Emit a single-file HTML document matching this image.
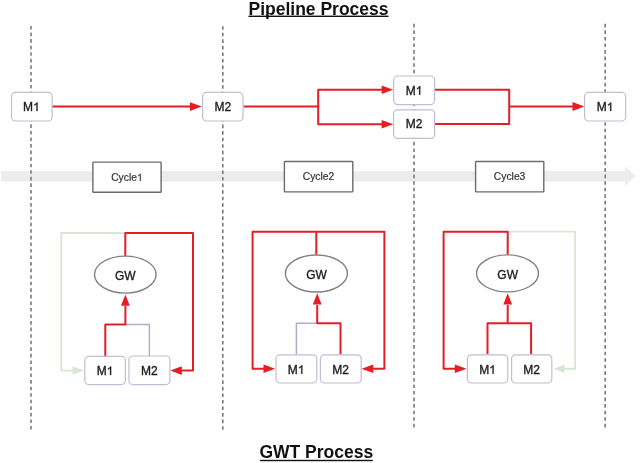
<!DOCTYPE html>
<html><head><meta charset="utf-8">
<style>
html,body{margin:0;padding:0;background:#fff;width:640px;height:463px;overflow:hidden}
svg{display:block;will-change:transform;font-family:"Liberation Sans",sans-serif}
</style></head>
<body>
<svg width="640" height="463" viewBox="0 0 640 463">
<rect width="640" height="463" fill="#fff"/>
<text x="318.5" y="14.5" font-size="17.5" font-weight="bold" text-anchor="middle" fill="#111">Pipeline Process</text>
<rect x="248.5" y="15.6" width="140" height="1.4" fill="#111"/>
<text x="316.3" y="458.4" font-size="17.5" font-weight="bold" text-anchor="middle" fill="#111">GWT Process</text>
<rect x="260" y="459.8" width="112.8" height="1.4" fill="#111"/>
<path d="M1 170.9 H625 V166.2 L635.3 176.1 L625 186.2 V181.4 H1 Z" fill="#ececec"/>
<g stroke="#7a7a7a" stroke-width="1.6" stroke-dasharray="3.6 2.957" fill="none">
<path d="M31 26 V429.6"/><path d="M222.8 26.2 V429.8"/><path d="M414 23.8 V427.4"/><path d="M605.2 23.8 V427.4"/>
</g>
<g fill="#fff" stroke="#6c6c6c" stroke-width="1.4">
<rect x="92.9" y="162.1" width="68.2" height="30.2" rx="0.6"/><rect x="284.4" y="161.5" width="68.4" height="30.4" rx="0.6"/><rect x="475.6" y="161.5" width="68.2" height="30.4" rx="0.6"/>
</g>
<text x="111.16" y="181" font-size="10.3" fill="#333" stroke="#333" stroke-width="0.2">Cycle</text>
<path d="M763 0L583 0L583 1147C540 1106 483 1064 413 1023C343 982 280 951 223 930L223 1104C324 1151 412 1209 487 1276C562 1343 615 1407 646 1466L763 1466Z" transform="translate(136.91,181) scale(0.005029,-0.005029)" fill="#333" stroke="#333" stroke-width="39.8"/>
<text x="302.76" y="180.4" font-size="10.3" fill="#333" stroke="#333" stroke-width="0.2">Cycle2</text>
<text x="493.86" y="180.4" font-size="10.3" fill="#333" stroke="#333" stroke-width="0.2">Cycle3</text>
<g stroke="#e41e25" stroke-width="2" fill="none" stroke-linejoin="round">
<path d="M52 106.6 H191"/><path d="M243.5 106.6 H318.2"/><path d="M382 89.8 H318.2 V124.2 H382"/><path d="M435 89.8 H509.2 V124.1 H435"/><path d="M509.2 106.5 H573.5"/>
</g>
<g fill="#e41e25"><polygon points="190,102.2 201.8,106.6 190,111"/><polygon points="381.6,85.5 393.2,89.8 381.6,94.1"/><polygon points="381.6,119.9 393.2,124.2 381.6,128.5"/><polygon points="572.5,102.1 584.3,106.5 572.5,110.9"/></g>
<g fill="#fff" stroke="#c0bdd8" stroke-width="1.2">
<rect x="11.5" y="92.4" width="40.6" height="28.6" rx="4"/><rect x="202.6" y="92.4" width="40.4" height="28.6" rx="4"/><rect x="393.6" y="76" width="41" height="28.6" rx="4"/><rect x="393.6" y="109.8" width="41" height="28.6" rx="4"/><rect x="584.6" y="92.4" width="41" height="28.6" rx="4"/>
</g>
<text x="23.07" y="111" font-size="12" fill="#1e1e1e" stroke="#1e1e1e" stroke-width="0.35">M</text>
<path d="M763 0L583 0L583 1147C540 1106 483 1064 413 1023C343 982 280 951 223 930L223 1104C324 1151 412 1209 487 1276C562 1343 615 1407 646 1466L763 1466Z" transform="translate(33.06,111) scale(0.005859,-0.005859)" fill="#1e1e1e" stroke="#1e1e1e" stroke-width="59.7"/>
<text x="214.47" y="111" font-size="12" fill="#1e1e1e" stroke="#1e1e1e" stroke-width="0.35">M2</text>
<text x="405.77" y="94.7" font-size="12" fill="#1e1e1e" stroke="#1e1e1e" stroke-width="0.35">M</text>
<path d="M763 0L583 0L583 1147C540 1106 483 1064 413 1023C343 982 280 951 223 930L223 1104C324 1151 412 1209 487 1276C562 1343 615 1407 646 1466L763 1466Z" transform="translate(415.76,94.7) scale(0.005859,-0.005859)" fill="#1e1e1e" stroke="#1e1e1e" stroke-width="59.7"/>
<text x="405.77" y="128.4" font-size="12" fill="#1e1e1e" stroke="#1e1e1e" stroke-width="0.35">M2</text>
<text x="596.77" y="111" font-size="12" fill="#1e1e1e" stroke="#1e1e1e" stroke-width="0.35">M</text>
<path d="M763 0L583 0L583 1147C540 1106 483 1064 413 1023C343 982 280 951 223 930L223 1104C324 1151 412 1209 487 1276C562 1343 615 1407 646 1466L763 1466Z" transform="translate(606.76,111) scale(0.005859,-0.005859)" fill="#1e1e1e" stroke="#1e1e1e" stroke-width="59.7"/>
<g fill="none" stroke-width="2" stroke-linejoin="round">
<path d="M125.3 233 H61.3 V370.6 H73.5" stroke="#d9e5d5" stroke-width="1.8"/>
<path d="M125.3 256 V233 H193 V370.6 H181" stroke="#e41e25"/>
<path d="M125.4 324.6 H149.4 V356" stroke="#b3aacd" stroke-width="1.5"/>
<path d="M105.3 356 V324.6 H125.4 V306" stroke="#e41e25"/>
</g>
<polygon points="72.5,366.5 84,370.6 72.5,374.7" fill="#d9e5d5"/>
<polygon points="181.8,366.3 170.2,370.6 181.8,374.9" fill="#e41e25"/>
<polygon points="121,305.8 125.4,294.5 129.8,305.8" fill="#e41e25"/>
<ellipse cx="125.3" cy="274.6" rx="30.8" ry="18.5" fill="#fff" stroke="#808080" stroke-width="1.4"/>
<g fill="none" stroke-width="2" stroke-linejoin="round">
<path d="M264 368.75 H252.6 V231.7 H384.4 V368.75 H372.5" stroke="#e41e25"/>
<path d="M316.3 231.7 V254.5" stroke="#e41e25"/>
<path d="M317.2 323.3 H296.4 V354.4" stroke="#b3aacd" stroke-width="1.5"/>
<path d="M317.2 305 V323.3 H340.5 V354.4" stroke="#e41e25"/>
</g>
<polygon points="263.5,364.5 275.2,368.75 263.5,373" fill="#e41e25"/>
<polygon points="373.2,364.5 361.6,368.75 373.2,373" fill="#e41e25"/>
<polygon points="312.8,304.6 317.2,293.3 321.6,304.6" fill="#e41e25"/>
<ellipse cx="316.4" cy="273.5" rx="31" ry="18.5" fill="#fff" stroke="#808080" stroke-width="1.4"/>
<g fill="none" stroke-width="2" stroke-linejoin="round">
<path d="M507.7 231.7 H575.1 V368.75 H564" stroke="#d9e5d5" stroke-width="1.8"/>
<path d="M455.5 368.75 H443.6 V231.7 H507.7 V254.5" stroke="#e41e25"/>
<path d="M487.5 354.4 V323.3 H531.1 V354.4" stroke="#e41e25"/>
<path d="M507.7 323.3 V305" stroke="#e41e25"/>
</g>
<polygon points="564.6,364.6 553.8,368.75 564.6,372.9" fill="#d9e5d5"/>
<polygon points="454.8,364.5 466.6,368.75 454.8,373" fill="#e41e25"/>
<polygon points="503.3,304.6 507.7,293.2 512.1,304.6" fill="#e41e25"/>
<ellipse cx="507.5" cy="273.4" rx="31" ry="18.5" fill="#fff" stroke="#808080" stroke-width="1.4"/>
<text x="114.97" y="279.6" font-size="12" fill="#1e1e1e" stroke="#1e1e1e" stroke-width="0.35">GW</text>
<text x="306.27" y="278.6" font-size="12" fill="#1e1e1e" stroke="#1e1e1e" stroke-width="0.35">GW</text>
<text x="497.37" y="278.6" font-size="12" fill="#1e1e1e" stroke="#1e1e1e" stroke-width="0.35">GW</text>
<g fill="#fff" stroke="#c0bdd8" stroke-width="1.2">
<rect x="84.8" y="356.4" width="40.6" height="28.2" rx="4"/><rect x="128.9" y="356" width="41" height="28.6" rx="4"/><rect x="276" y="354.8" width="40.8" height="28.2" rx="4"/><rect x="320.4" y="354.8" width="40.8" height="28.2" rx="4"/><rect x="467.4" y="354.8" width="40.4" height="28.2" rx="4"/><rect x="511.6" y="354.8" width="40.2" height="28.2" rx="4"/>
</g>
<text x="96.67" y="375" font-size="12" fill="#1e1e1e" stroke="#1e1e1e" stroke-width="0.35">M</text>
<path d="M763 0L583 0L583 1147C540 1106 483 1064 413 1023C343 982 280 951 223 930L223 1104C324 1151 412 1209 487 1276C562 1343 615 1407 646 1466L763 1466Z" transform="translate(106.66,375) scale(0.005859,-0.005859)" fill="#1e1e1e" stroke="#1e1e1e" stroke-width="59.7"/>
<text x="140.97" y="375" font-size="12" fill="#1e1e1e" stroke="#1e1e1e" stroke-width="0.35">M2</text>
<text x="287.87" y="373.8" font-size="12" fill="#1e1e1e" stroke="#1e1e1e" stroke-width="0.35">M</text>
<path d="M763 0L583 0L583 1147C540 1106 483 1064 413 1023C343 982 280 951 223 930L223 1104C324 1151 412 1209 487 1276C562 1343 615 1407 646 1466L763 1466Z" transform="translate(297.86,373.8) scale(0.005859,-0.005859)" fill="#1e1e1e" stroke="#1e1e1e" stroke-width="59.7"/>
<text x="332.37" y="373.8" font-size="12" fill="#1e1e1e" stroke="#1e1e1e" stroke-width="0.35">M2</text>
<text x="479.17" y="373.8" font-size="12" fill="#1e1e1e" stroke="#1e1e1e" stroke-width="0.35">M</text>
<path d="M763 0L583 0L583 1147C540 1106 483 1064 413 1023C343 982 280 951 223 930L223 1104C324 1151 412 1209 487 1276C562 1343 615 1407 646 1466L763 1466Z" transform="translate(489.16,373.8) scale(0.005859,-0.005859)" fill="#1e1e1e" stroke="#1e1e1e" stroke-width="59.7"/>
<text x="523.27" y="373.8" font-size="12" fill="#1e1e1e" stroke="#1e1e1e" stroke-width="0.35">M2</text>
</svg>
</body></html>
